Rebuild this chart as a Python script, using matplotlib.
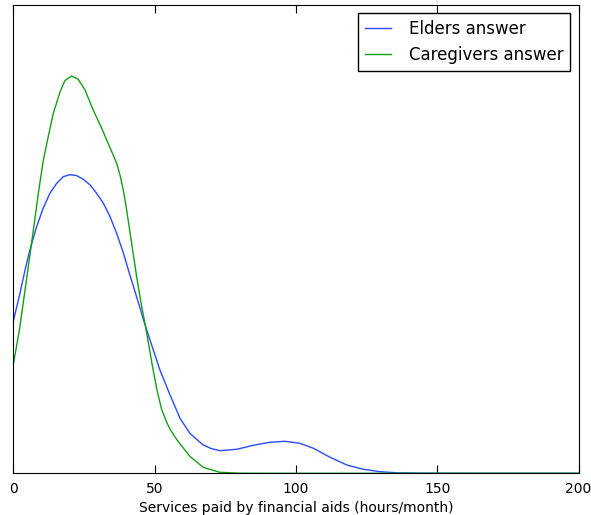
import matplotlib
matplotlib.use('Agg')
import matplotlib.pyplot as plt

# values (density, arbitrary scale)
elders_x = [0, 2.4, 4.2, 5.9, 8.3, 10.6, 13.0, 15.4, 17.7, 20.1, 22.5, 24.8, 27.2,
            29.5, 31.9, 34.2, 36.6, 38.9, 41.2, 44.9, 46.3, 48.4, 51.9, 55.5, 59.0,
            62.5, 67.2, 70.0, 73.1, 79.1, 84.9, 90.8, 96.1, 101.4, 106.2, 112.1,
            118, 123.8, 129.7, 135.6, 145, 160, 200]
elders_y = [0.01516, 0.0180, 0.02033, 0.02233, 0.02466, 0.0265, 0.0280, 0.0290,
            0.02966, 0.02986, 0.02976, 0.0294, 0.02883, 0.0280, 0.0270, 0.0257,
            0.0240, 0.0221, 0.0199, 0.0165, 0.01515, 0.01333, 0.01033, 0.00783,
            0.0055, 0.0040, 0.00283, 0.00248, 0.00226, 0.0024, 0.0028, 0.0031,
            0.0032, 0.0030, 0.0025, 0.0016, 0.00083, 0.0004, 0.00016, 0.00005,
            0.00001, 0.0, 0.0]

caregivers_x = [0, 2.2, 4.2, 6.5, 8.9, 10.6, 12.4, 14.2, 16.6, 18.3, 20.7, 23.0,
                25.4, 28.3, 31.3, 34.2, 36.6, 37.8, 38.9, 40.1, 41.9, 43.7, 45.5,
                46.6, 47.8, 49.2, 50.8, 52.5, 54.3, 55.5, 57.8, 59.0, 62.5, 67.2,
                73.1, 80, 90, 200]
caregivers_y = [0.0108, 0.01433, 0.01833, 0.0230, 0.0280, 0.0312, 0.03366, 0.0360,
                0.03816, 0.03926, 0.03973, 0.0394, 0.03833, 0.03633, 0.0345, 0.0326,
                0.0310, 0.0298, 0.0284, 0.0264, 0.0230, 0.0196, 0.0166, 0.0150,
                0.0131, 0.0108, 0.0084, 0.0064, 0.0051, 0.0044, 0.0034, 0.00295,
                0.0017, 0.0006, 0.0001, 0.00001, 0.0, 0.0]

fig = plt.figure(figsize=(5.91, 5.15), dpi=100)
ax = fig.add_axes([0.0223, 0.081, 0.9567, 0.91])

ax.plot(elders_x, elders_y, color='#2a4bff', linewidth=1.0, label='Elders answer')
ax.plot(caregivers_x, caregivers_y, color='#14a014', linewidth=1.0, label='Caregivers answer')

ax.set_xlim(0, 200)
ax.set_ylim(0, 0.04686)
ax.set_xticks([0, 50, 100, 150, 200])
ax.set_yticks([])
ax.tick_params(axis='x', direction='in', top=True, length=5.5, labelsize=10, pad=6)
ax.set_xlabel('Services paid by financial aids (hours/month)', fontsize=10)

leg = ax.legend(loc='upper right', fontsize=12, fancybox=False, framealpha=1,
                borderaxespad=0.5, handlelength=1.6, handletextpad=1.05)
leg.get_frame().set_edgecolor('black')
leg.get_frame().set_linewidth(1.0)

fig.savefig('out.png', dpi=100)
